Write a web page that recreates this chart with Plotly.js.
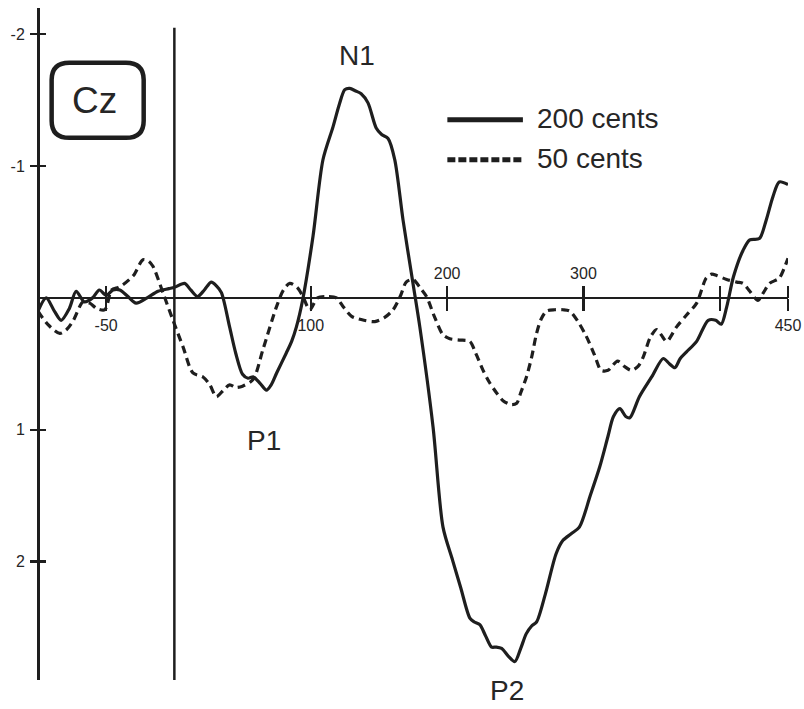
<!DOCTYPE html>
<html>
<head>
<meta charset="utf-8">
<script src="https://cdn.plot.ly/plotly-3.0.1.min.js"></script>
<style>html,body{margin:0;padding:0;background:#fff;}#chart{width:804px;height:709px;}</style>
</head>
<body>
<div id="chart"></div>
<script>
// Time (ms) and amplitude (µV) for the Cz ERP, 200-cent condition (solid)
const time200 = [-100,-94,-88,-83,-77,-72,-66,-60,-55,-50,-45,-40,-34,-28,-20,-12,-4,0,7.5,12,17,22,27,31,34.5,40.5,45,50,54,58,63,67.5,71,75,82,86,89.5,94,101.7,109,116.4,121,125,128.6,133,137,142,148,152,156.7,161.6,167.7,175,180,189.7,197,204,210,216.7,220,224,228,232.6,236,240,245,249.7,254,258,262,265.6,272,280,285,291,297,305,312,318,322,326.7,331,334,341,350,358.5,363,367,371,375.6,383,391.5,397,401,405,410,417,422,429,434,439,443.6,450];
const amp200 = [0.10,0.00,0.10,0.17,0.08,-0.05,0.03,0.00,-0.06,-0.02,-0.06,-0.06,-0.01,0.04,0.00,-0.05,-0.07,-0.08,-0.11,-0.06,-0.01,-0.06,-0.12,-0.09,-0.04,0.22,0.42,0.58,0.61,0.60,0.65,0.70,0.66,0.57,0.42,0.33,0.22,0.02,-0.47,-1.05,-1.30,-1.47,-1.58,-1.59,-1.57,-1.55,-1.48,-1.29,-1.24,-1.21,-1.05,-0.59,-0.11,0.22,0.98,1.74,1.99,2.20,2.43,2.46,2.48,2.56,2.65,2.65,2.66,2.72,2.76,2.66,2.55,2.49,2.46,2.25,1.94,1.84,1.79,1.74,1.50,1.28,1.05,0.90,0.84,0.90,0.91,0.75,0.60,0.46,0.50,0.53,0.46,0.41,0.33,0.17,0.17,0.20,0.07,-0.16,-0.36,-0.44,-0.45,-0.59,-0.77,-0.88,-0.86];

// 50-cent condition (dashed)
const time50 = [-100,-93,-84,-79,-74,-67,-62,-57,-51,-46,-41,-37.7,-30,-23,-19,-15.7,-8.4,-1,6.3,13.6,21,26,30.8,36,40.6,45,50,57.7,65,74.8,80,84.6,90,94.3,99.3,105,112,118.9,124,130,139,147,154,160.4,166,170,175,180,184.9,191,197,202,209,216.6,221,226.4,231,236.2,241,247.2,251,254,258.2,262,265.6,269,273,279,285,290,296,302,308,313,318,325,330,335,340,343.8,349,353.6,357,361,368.3,375.6,383,390,394,397.7,405,412.5,417,422,428,432,436.5,443.6,447,450];
const amp50 = [0.10,0.20,0.27,0.24,0.17,0.03,0.04,0.08,0.09,-0.06,-0.08,-0.10,-0.17,-0.29,-0.28,-0.24,-0.04,0.17,0.37,0.57,0.60,0.66,0.75,0.70,0.66,0.68,0.67,0.62,0.39,0.07,-0.06,-0.11,-0.08,-0.01,0.09,0.00,-0.01,0.00,0.07,0.14,0.17,0.18,0.15,0.09,-0.02,-0.12,-0.14,-0.08,-0.01,0.15,0.28,0.31,0.32,0.33,0.42,0.55,0.64,0.72,0.78,0.81,0.80,0.72,0.60,0.45,0.27,0.16,0.10,0.09,0.09,0.10,0.18,0.29,0.43,0.55,0.55,0.48,0.52,0.55,0.52,0.45,0.30,0.24,0.28,0.33,0.22,0.13,0.04,-0.15,-0.18,-0.17,-0.14,-0.12,-0.11,-0.05,0.02,-0.04,-0.11,-0.15,-0.22,-0.30];

const xTickVals = [-50,100,200,300,400,450];
const xTicksBelow = ['-50','100','','','','450'];
const xTicksAbove = ['','','200','300','',''];
const yTickVals = [-2,-1,1,2];
const yTickText = ['-2','-1','1','2'];
const seriesNames = ['200 cents','50 cents'];
const peakLabels = ['N1','P1','P2'];
const electrode = 'Cz';

const X_RANGE = [-100, 450];
const Y_RANGE = [2.9, -2.2];
const zeroPos = (0 - Y_RANGE[0]) / (Y_RANGE[1] - Y_RANGE[0]);
const INK = '#1e1e1e';
const TXT = '#262626';
const FONT = 'Liberation Sans, Arial, sans-serif';

const traces = [
  {x: time200, y: amp200, name: seriesNames[0], type: 'scatter', mode: 'lines',
   line: {color: INK, width: 3.2, shape: 'spline', smoothing: 0.8}, showlegend: false, hoverinfo: 'skip'},
  {x: time50, y: amp50, name: seriesNames[1], type: 'scatter', mode: 'lines',
   line: {color: INK, width: 3.2, dash: '8px,5px', shape: 'spline', smoothing: 0.8}, showlegend: false, hoverinfo: 'skip'},
  // empty trace so the overlaying tick axes are drawn
  {x: [], y: [], xaxis: 'x2', yaxis: 'y2', type: 'scatter', mode: 'lines', showlegend: false, hoverinfo: 'skip'}
];

// rounded box for the electrode label (data coords)
function roundRect(x0, x1, y0, y1, rx, ry) {
  return `M ${x0+rx},${y0} L ${x1-rx},${y0} Q ${x1},${y0} ${x1},${y0+ry} L ${x1},${y1-ry} Q ${x1},${y1} ${x1-rx},${y1} L ${x0+rx},${y1} Q ${x0},${y1} ${x0},${y1-ry} L ${x0},${y0+ry} Q ${x0},${y0} ${x0+rx},${y0} Z`;
}

const layout = {
  width: 804, height: 709,
  margin: {l: 38, r: 16, t: 8, b: 29, pad: 0},
  paper_bgcolor: '#fff', plot_bgcolor: '#fff',
  font: {family: FONT, color: TXT},
  showlegend: false,
  xaxis: {
    range: X_RANGE, anchor: 'free', position: zeroPos, side: 'bottom',
    showgrid: false, zeroline: false, showline: true, linecolor: INK, linewidth: 2.5,
    tickmode: 'array', tickvals: xTickVals, ticktext: xTicksBelow,
    ticks: 'outside', ticklen: 12, tickwidth: 2.2, tickcolor: INK,
    tickfont: {size: 16, color: TXT, family: FONT}, ticklabelstandoff: 0
  },
  xaxis2: {
    range: X_RANGE, overlaying: 'x', anchor: 'free', position: zeroPos, side: 'top',
    showgrid: false, zeroline: false, showline: false,
    tickmode: 'array', tickvals: xTickVals, ticktext: xTicksAbove,
    ticks: 'outside', ticklen: 12, tickwidth: 2.2, tickcolor: INK,
    tickfont: {size: 16, color: TXT, family: FONT}, ticklabelstandoff: 0
  },
  yaxis: {
    range: Y_RANGE, anchor: 'free', position: 0, side: 'left',
    showgrid: false, zeroline: false, showline: true, linecolor: INK, linewidth: 2.5,
    tickmode: 'array', tickvals: yTickVals, ticktext: yTickText,
    ticks: 'outside', ticklen: 7, tickwidth: 2.2, tickcolor: INK,
    tickfont: {size: 16, color: TXT, family: FONT}, ticklabelstandoff: 2
  },
  yaxis2: {
    range: Y_RANGE, overlaying: 'y', anchor: 'free', position: 0, side: 'right',
    showgrid: false, zeroline: false, showline: false, showticklabels: false,
    tickmode: 'array', tickvals: yTickVals,
    ticks: 'outside', ticklen: 7, tickwidth: 2.2, tickcolor: INK
  },
  shapes: [
    // stimulus onset line
    {type: 'line', xref: 'x', yref: 'y', x0: 0, x1: 0, y0: Y_RANGE[0], y1: -2.05, line: {color: INK, width: 2.5}},
    // electrode box
    {type: 'path', xref: 'x', yref: 'y', path: roundRect(-90, -22.5, -1.785, -1.215, 13, 0.13), line: {color: INK, width: 4.5}},
    // legend samples
    {type: 'line', xref: 'x', yref: 'y', x0: 200.2, x1: 255.6, y0: -1.352, y1: -1.352, line: {color: INK, width: 5}},
    {type: 'line', xref: 'x', yref: 'y', x0: 200.2, x1: 255.6, y0: -1.048, y1: -1.048, line: {color: INK, width: 5, dash: '8px,3px'}}
  ],
  annotations: [
    {x: -58.5, y: -1.5, xref: 'x', yref: 'y', text: electrode, showarrow: false, font: {size: 37, color: TXT, family: FONT}},
    {x: 133.7, y: -1.84, xref: 'x', yref: 'y', text: peakLabels[0], showarrow: false, font: {size: 28, color: TXT, family: FONT}},
    {x: 66, y: 1.08, xref: 'x', yref: 'y', text: peakLabels[1], showarrow: false, font: {size: 28, color: TXT, family: FONT}},
    {x: 244, y: -0.015, xref: 'x', yref: 'paper', yanchor: 'middle', text: peakLabels[2], showarrow: false, font: {size: 28, color: TXT, family: FONT}},
    {x: 264.3, y: -1.365, xref: 'x', yref: 'y', text: seriesNames[0], showarrow: false, xanchor: 'left', font: {size: 28, color: TXT, family: FONT}},
    {x: 264.3, y: -1.06, xref: 'x', yref: 'y', text: seriesNames[1], showarrow: false, xanchor: 'left', font: {size: 28, color: TXT, family: FONT}}
  ]
};

Plotly.newPlot('chart', traces, layout, {staticPlot: true, displayModeBar: false});
</script>
</body>
</html>
